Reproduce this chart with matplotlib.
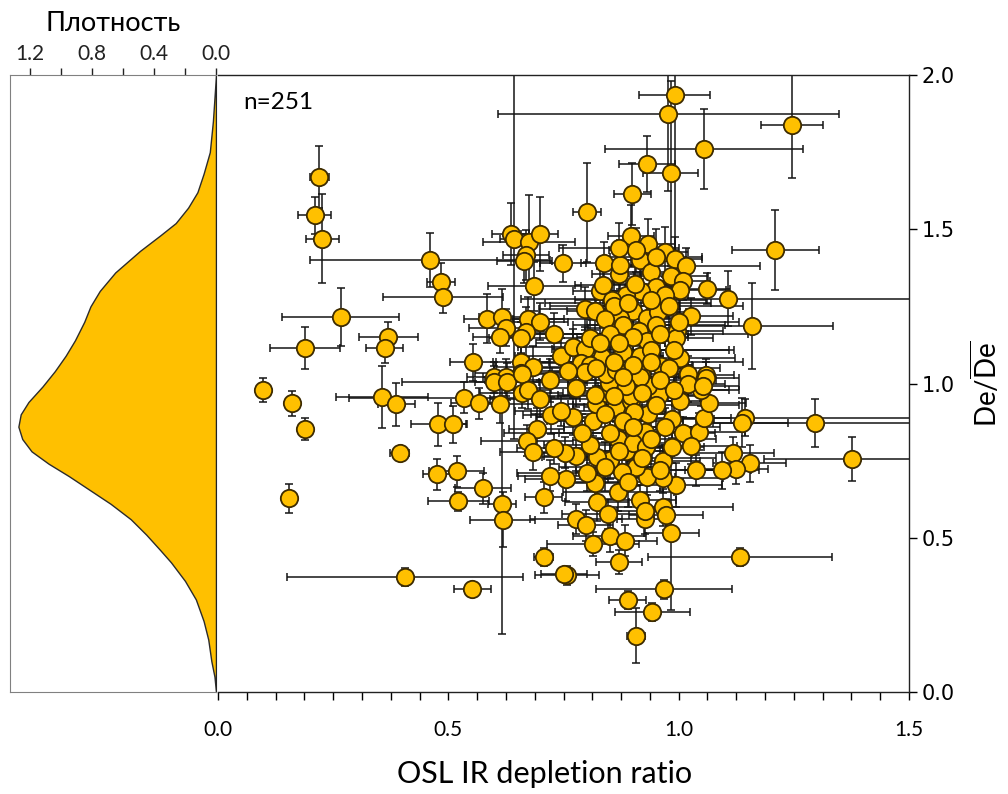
import numpy as np
import matplotlib
matplotlib.use("Agg")
import matplotlib.pyplot as plt

plt.rcParams['font.family'] = ['Lato', 'DejaVu Sans']
plt.rcParams['mathtext.fontset'] = 'custom'
plt.rcParams['mathtext.rm'] = 'Lato'

# OSL IR depletion ratio (x), De / mean De (y) and their errors
osl_ratio = [
    0.22, 0.21, 0.226, 0.46, 0.484, 0.488, 0.266, 0.188, 0.37, 0.362,
    0.584, 0.616, 0.625, 0.613, 0.635, 0.643, 0.676, 0.698, 0.669, 0.665,
    0.687, 0.748, 0.672, 0.70, 0.669, 0.658, 0.553, 0.745, 0.658, 0.683,
    0.658, 0.60, 0.625, 0.991, 0.977, 1.246, 1.055, 0.931, 0.983, 0.899,
    0.801, 1.21, 1.16, 1.108, 1.061, 0.897, 0.933, 0.839, 0.871, 0.915,
    0.971, 0.991, 1.016, 0.94, 0.984, 1.009, 1.002, 0.95, 0.918, 0.885,
    0.83, 0.855, 0.97, 0.796, 0.818, 0.901, 0.872, 0.931, 0.955, 1.027,
    0.873, 0.914, 0.996, 0.931, 0.995, 0.771, 0.796, 0.787, 0.834, 0.879,
    0.915, 0.962, 1.002, 1.06, 0.919, 1.02, 1.295, 1.376, 1.143, 1.138,
    1.118, 1.154, 1.125, 1.094, 1.038, 0.995, 0.966, 0.931, 0.967, 0.907,
    0.878, 0.85, 0.885, 0.823, 0.778, 0.756, 0.818, 0.869, 0.915, 0.823,
    0.847, 0.926, 0.967, 0.972, 0.777, 0.798, 0.984, 0.85, 0.884, 0.814,
    0.871, 0.758, 1.133, 0.968, 0.889, 0.943, 0.907, 0.771, 0.814, 0.82,
    0.865, 0.897, 0.933, 0.926, 0.868, 0.807, 0.753, 0.986, 1.009, 1.044,
    1.054, 1.066, 1.002, 0.957, 0.933, 0.897, 0.843, 0.777, 1.049, 1.02,
    1.06, 1.027, 0.986, 0.926, 0.915, 0.098, 0.16, 0.189, 0.154, 0.356,
    0.387, 0.394, 0.478, 0.511, 0.475, 0.518, 0.575, 0.522, 0.535, 0.566,
    0.613, 0.60, 0.627, 0.659, 0.692, 0.671, 0.683, 0.73, 0.722, 0.745,
    0.721, 0.707, 0.616, 0.618, 0.707, 0.752, 0.406, 0.552, 0.659, 0.673,
    0.908, 0.873, 0.905, 0.835, 0.807, 0.808, 0.796, 0.849, 0.885, 1.052,
    0.843, 0.865, 0.818, 0.902, 0.901, 0.93, 0.86, 0.89, 0.94, 0.98,
    0.84, 0.88, 0.95, 1.00, 0.85, 0.90, 0.96, 0.83, 0.87, 0.94,
    0.99, 0.86, 0.90, 0.94, 0.98, 0.82, 0.88, 0.96, 0.99, 0.86,
    0.92, 0.84, 0.88, 0.95, 0.97, 0.90, 0.85, 0.79, 0.94, 0.87,
    0.92, 0.84, 0.96, 0.80, 0.89, 0.72, 0.70, 0.76, 0.73, 0.95,
    0.87,
]
de_norm = [
    1.67, 1.545, 1.47, 1.40, 1.33, 1.28, 1.215, 1.115, 1.15, 1.115,
    1.21, 1.217, 1.18, 1.15, 1.485, 1.47, 1.46, 1.485, 1.417, 1.396,
    1.315, 1.39, 1.21, 1.20, 1.167, 1.148, 1.069, 1.089, 1.069, 1.053,
    1.035, 1.02, 1.02, 1.934, 1.875, 1.837, 1.76, 1.711, 1.681, 1.614,
    1.555, 1.433, 1.186, 1.275, 1.307, 1.477, 1.452, 1.39, 1.356, 1.399,
    1.426, 1.404, 1.38, 1.363, 1.347, 1.331, 1.304, 1.312, 1.30, 1.288,
    1.30, 1.272, 1.286, 1.243, 1.234, 1.234, 1.213, 1.211, 1.233, 1.218,
    1.18, 1.171, 1.171, 1.139, 1.148, 1.118, 1.113, 1.067, 1.085, 1.103,
    1.089, 1.057, 1.084, 1.028, 1.03, 1.03, 0.873, 0.755, 0.889, 0.873,
    0.776, 0.741, 0.723, 0.719, 0.719, 0.671, 0.694, 0.698, 0.75, 0.728,
    0.714, 0.751, 0.782, 0.763, 0.766, 0.69, 0.677, 0.648, 0.622, 0.615,
    0.577, 0.561, 0.599, 0.575, 0.561, 0.54, 0.516, 0.505, 0.491, 0.48,
    0.421, 0.378, 0.437, 0.333, 0.299, 0.259, 0.182, 0.892, 0.879, 0.932,
    0.924, 0.943, 0.90, 0.843, 0.819, 0.801, 0.776, 0.884, 0.841, 0.843,
    0.889, 0.936, 0.943, 0.963, 0.992, 0.96, 0.97, 0.984, 0.978, 0.999,
    1.019, 0.798, 0.793, 0.588, 1.02, 0.978, 0.936, 0.852, 0.628, 0.956,
    0.932, 0.776, 0.868, 0.868, 0.706, 0.715, 0.661, 0.618, 0.954, 0.936,
    0.932, 1.006, 1.006, 0.97, 0.852, 0.814, 0.779, 0.79, 0.897, 0.911,
    0.701, 0.631, 0.609, 0.559, 0.437, 0.381, 0.373, 0.334, 1.03, 0.978,
    1.433, 1.385, 1.323, 1.32, 1.146, 1.061, 1.036, 1.003, 0.992, 0.992,
    1.03, 1.043, 0.963, 0.906, 0.806, 0.793, 1.25, 1.26, 1.27, 1.25,
    1.21, 1.19, 1.19, 1.20, 1.16, 1.15, 1.16, 1.13, 1.13, 1.11,
    1.11, 1.07, 1.06, 1.07, 1.05, 1.05, 1.02, 1.01, 0.98, 0.96,
    0.97, 0.90, 0.88, 0.93, 0.86, 0.86, 0.84, 0.84, 0.82, 0.78,
    0.76, 0.73, 0.72, 0.71, 0.68, 1.01, 0.95, 1.04, 1.16, 1.41,
    1.44,
]
osl_err = [
    0.02, 0.036, 0.036, 0.26, 0.03, 0.13, 0.126, 0.076, 0.065, 0.04,
    0.05, 0.05, 0.08, 0.06, 0.04, 0.03, 0.10, 0.04, 0.05, 0.06,
    0.10, 0.05, 0.08, 0.06, 0.05, 0.07, 0.05, 0.10, 0.06, 0.08,
    0.10, 0.06, 0.05, 0.078, 0.37, 0.068, 0.214, 0.06, 0.06, 0.04,
    0.03, 0.095, 0.175, 0.45, 0.05, 0.05, 0.06, 0.05, 0.06, 0.07,
    0.05, 0.06, 0.16, 0.05, 0.08, 0.06, 0.10, 0.06, 0.07, 0.05,
    0.06, 0.08, 0.05, 0.10, 0.06, 0.07, 0.05, 0.08, 0.06, 0.09,
    0.07, 0.05, 0.10, 0.06, 0.08, 0.12, 0.07, 0.09, 0.06, 0.08,
    0.05, 0.07, 0.12, 0.06, 0.07, 0.05, 0.22, 0.19, 0.40, 0.10,
    0.09, 0.08, 0.07, 0.08, 0.12, 0.10, 0.13, 0.06, 0.08, 0.07,
    0.10, 0.06, 0.08, 0.12, 0.07, 0.09, 0.06, 0.12, 0.08, 0.07,
    0.10, 0.06, 0.15, 0.08, 0.10, 0.06, 0.06, 0.08, 0.07, 0.10,
    0.05, 0.07, 0.20, 0.148, 0.04, 0.082, 0.02, 0.08, 0.10, 0.06,
    0.07, 0.09, 0.06, 0.08, 0.07, 0.10, 0.06, 0.09, 0.07, 0.10,
    0.06, 0.08, 0.07, 0.10, 0.06, 0.08, 0.07, 0.09, 0.06, 0.08,
    0.07, 0.10, 0.07, 0.06, 0.08, 0.01, 0.01, 0.01, 0.01, 0.10,
    0.04, 0.02, 0.06, 0.03, 0.03, 0.06, 0.06, 0.066, 0.25, 0.06,
    0.08, 0.20, 0.07, 0.09, 0.06, 0.10, 0.07, 0.08, 0.06, 0.10,
    0.07, 0.04, 0.03, 0.07, 0.02, 0.05, 0.256, 0.04, 0.06, 0.05,
    0.06, 0.05, 0.07, 0.06, 0.08, 0.06, 0.07, 0.09, 0.06, 0.08,
    0.07, 0.06, 0.08, 0.07, 0.09, 0.06, 0.14, 0.18, 0.12, 0.16,
    0.20, 0.11, 0.15, 0.13, 0.17, 0.12, 0.19, 0.14, 0.10, 0.18,
    0.12, 0.16, 0.13, 0.20, 0.11, 0.15, 0.17, 0.12, 0.14, 0.19,
    0.10, 0.16, 0.13, 0.18, 0.12, 0.15, 0.11, 0.17, 0.14, 0.12,
    0.16, 0.10, 0.13, 0.15, 0.12, 0.14, 0.11, 0.16, 0.12, 0.10,
    0.13,
]
de_err = [
    0.10, 0.06, 0.145, 0.087, 0.06, 0.05, 0.095, 0.069, 0.05, 0.05,
    0.08, 0.09, 0.06, 0.05, 0.10, 0.65, 0.15, 0.12, 0.08, 0.07,
    0.08, 0.06, 0.07, 0.06, 0.08, 0.05, 0.06, 0.06, 0.05, 0.07,
    0.06, 0.05, 0.06, 0.50, 0.25, 0.17, 0.13, 0.09, 0.30, 0.10,
    0.16, 0.13, 0.14, 0.09, 0.05, 0.10, 0.08, 0.07, 0.08, 0.06,
    0.08, 0.07, 0.06, 0.07, 0.07, 0.06, 0.08, 0.05, 0.08, 0.06,
    0.07, 0.06, 0.07, 0.07, 0.06, 0.08, 0.06, 0.07, 0.06, 0.06,
    0.07, 0.05, 0.07, 0.06, 0.05, 0.06, 0.07, 0.06, 0.05, 0.07,
    0.06, 0.05, 0.06, 0.05, 0.06, 0.06, 0.078, 0.07, 0.06, 0.08,
    0.05, 0.06, 0.05, 0.06, 0.05, 0.07, 0.05, 0.06, 0.05, 0.06,
    0.05, 0.06, 0.05, 0.06, 0.05, 0.07, 0.05, 0.06, 0.05, 0.06,
    0.05, 0.05, 0.06, 0.05, 0.05, 0.05, 0.25, 0.05, 0.05, 0.04,
    0.04, 0.03, 0.03, 0.03, 0.03, 0.03, 0.089, 0.06, 0.05, 0.06,
    0.05, 0.06, 0.05, 0.06, 0.05, 0.06, 0.05, 0.06, 0.05, 0.06,
    0.05, 0.06, 0.05, 0.06, 0.05, 0.06, 0.05, 0.06, 0.05, 0.06,
    0.05, 0.06, 0.05, 0.05, 0.06, 0.039, 0.04, 0.036, 0.047, 0.10,
    0.07, 0.02, 0.07, 0.06, 0.05, 0.05, 0.05, 0.03, 0.05, 0.05,
    0.06, 0.05, 0.06, 0.05, 0.07, 0.05, 0.06, 0.05, 0.06, 0.05,
    0.05, 0.05, 0.42, 0.09, 0.03, 0.02, 0.03, 0.02, 0.06, 0.06,
    0.07, 0.08, 0.06, 0.07, 0.06, 0.05, 0.06, 0.05, 0.06, 0.05,
    0.06, 0.05, 0.06, 0.05, 0.06, 0.05, 0.08, 0.06, 0.09, 0.07,
    0.06, 0.08, 0.07, 0.09, 0.06, 0.08, 0.07, 0.06, 0.09, 0.07,
    0.08, 0.06, 0.07, 0.09, 0.06, 0.08, 0.07, 0.06, 0.08, 0.07,
    0.09, 0.06, 0.07, 0.08, 0.06, 0.07, 0.09, 0.06, 0.08, 0.07,
    0.06, 0.08, 0.07, 0.06, 0.08, 0.07, 0.06, 0.08, 0.07, 0.09,
    0.08,
]

# density curve
dens_y = [0.0, 0.05, 0.10, 0.17, 0.23, 0.30, 0.36, 0.42, 0.46, 0.51,
          0.56, 0.61, 0.65, 0.70, 0.74, 0.78, 0.82, 0.86, 0.90, 0.94,
          0.99, 1.04, 1.09, 1.14, 1.20, 1.25, 1.30, 1.36, 1.43, 1.48,
          1.52, 1.57, 1.62, 1.68, 1.75, 1.85, 2.0]
dens_val = [0.0, 0.01, 0.03, 0.05, 0.08, 0.13, 0.20, 0.29, 0.36, 0.45,
            0.55, 0.68, 0.80, 0.95, 1.08, 1.19, 1.25, 1.275, 1.26, 1.21,
            1.12, 1.04, 0.97, 0.91, 0.85, 0.81, 0.75, 0.65, 0.49, 0.36,
            0.26, 0.18, 0.12, 0.08, 0.04, 0.02, 0.0]

gold = '#FFC000'
edge = '#3d2b00'
W, H = 1008, 794

fig = plt.figure(figsize=(W / 100, H / 100), dpi=100)
ax_d = fig.add_axes([10 / W, 1 - 692 / H, 206 / W, 617 / H])
ax = fig.add_axes([218 / W, 1 - 692 / H, 691 / W, 617 / H])

# ---- density panel
ax_d.fill_betweenx(dens_y, 0, dens_val, facecolor=gold, edgecolor='#2b2b2b', linewidth=1.0)
ax_d.set_xlim(1.329, 0)
ax_d.set_ylim(0, 2.0)
ax_d.xaxis.tick_top()
ax_d.set_xticks([1.2, 0.8, 0.4, 0.0])
ax_d.set_xticklabels(['1.2', '0.8', '0.4', '0.0'])
ax_d.set_xticks([1.0, 0.6, 0.2], minor=True)
ax_d.tick_params(axis='x', which='both', direction='out', length=5, width=1,
                 labelsize=15, pad=3, colors='#222222')
ax_d.set_yticks([])
for s in ['left', 'top', 'bottom']:
    ax_d.spines[s].set_color('#808080')
ax_d.spines['right'].set_color('#222222')
ax_d.set_xlabel('Плотность', fontsize=19.5, labelpad=9)
ax_d.xaxis.set_label_position('top')

# ---- main scatter
ax.errorbar(osl_ratio, de_norm, xerr=osl_err, yerr=de_err, fmt='none',
            ecolor='#151515', elinewidth=1.1, capsize=3, capthick=1.1, zorder=2)
ax.plot(osl_ratio, de_norm, 'o', ms=12.5, mfc=gold, mec=edge, mew=1.3, zorder=3)
ax.set_xlim(0, 1.5)
ax.set_ylim(0, 2.0)
ax.set_xticks([0.0, 0.5, 1.0, 1.5])
ax.set_xticklabels(['0.0', '0.5', '1.0', '1.5'])
ax.set_xticks(np.arange(0, 1.5001, 0.0625), minor=True)
ax.tick_params(axis='x', which='both', direction='out', length=6, width=1,
               labelsize=15, pad=14)
ax.yaxis.tick_right()
ax.yaxis.set_label_position('right')
ax.set_yticks([0.0, 0.5, 1.0, 1.5, 2.0])
ax.set_yticklabels(['0.0', '0.5', '1.0', '1.5', '2.0'], family='DejaVu Sans')
ax.tick_params(axis='y', direction='out', length=6, width=1, labelsize=15, pad=3)
ax.spines['left'].set_visible(False)
for s in ['top', 'right', 'bottom']:
    ax.spines[s].set_color('#222222')
    ax.spines[s].set_linewidth(1.0)
ax.set_xlabel('OSL IR depletion ratio', fontsize=22)
ax.xaxis.set_label_coords(0.473, -0.110)
ax.set_ylabel(r'De/$\overline{\mathrm{De}}$', fontsize=20, labelpad=10)
ax.text(0.037, 0.955, 'n=251', transform=ax.transAxes, fontsize=17.5, va='center')

fig.savefig('out.png', dpi=100)
